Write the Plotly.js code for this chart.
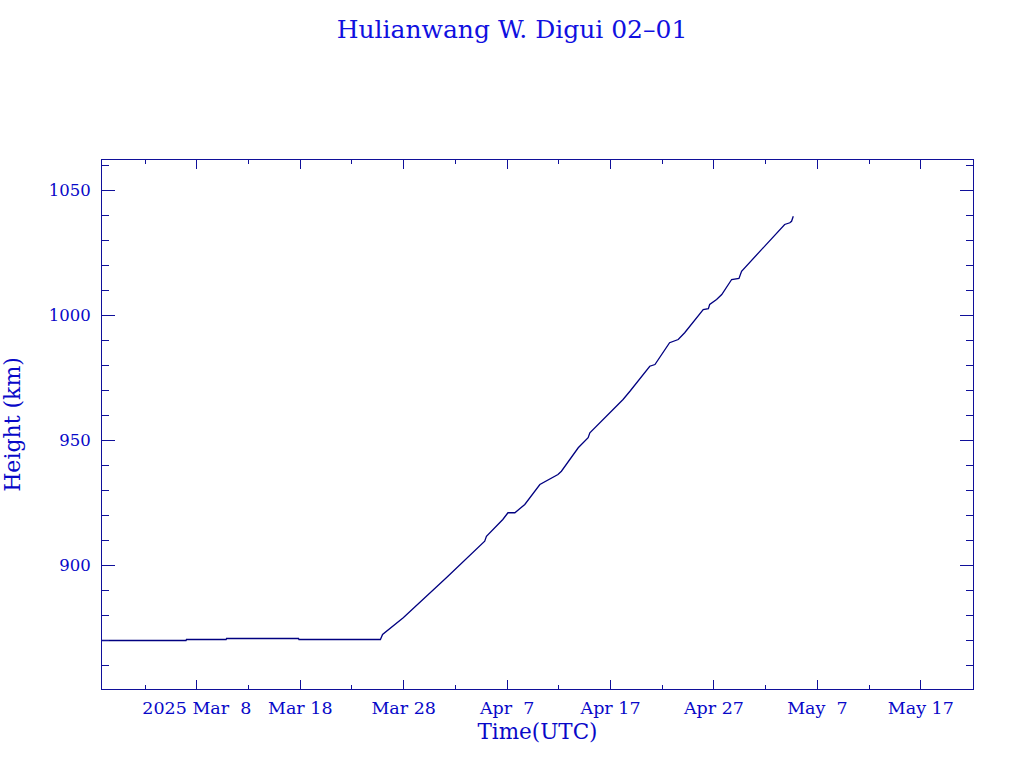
<!DOCTYPE html>
<html>
<head>
<meta charset="utf-8">
<script src="https://cdn.plot.ly/plotly-3.0.1.min.js"></script>
<style>html,body{margin:0;padding:0;background:#fff;}#chart{width:1024px;height:768px;}</style>
</head>
<body>
<div id="chart"></div>
<script>
// Observation times (UTC)
const times = [
  '2025-02-26 12:00', '2025-03-06 23:00', '2025-03-07 00:00', '2025-03-10 20:00',
  '2025-03-10 21:00', '2025-03-17 20:00', '2025-03-17 21:00', '2025-03-25 18:00',
  '2025-03-25 23:00', '2025-03-27 23:00', '2025-04-01 03:00', '2025-04-04 20:00',
  '2025-04-05 00:00', '2025-04-06 14:00', '2025-04-07 02:00', '2025-04-07 18:00',
  '2025-04-08 17:00', '2025-04-10 04:00', '2025-04-11 22:00', '2025-04-12 06:00',
  '2025-04-13 21:00', '2025-04-14 20:00', '2025-04-15 00:00', '2025-04-18 05:00',
  '2025-04-18 21:00', '2025-04-20 19:00', '2025-04-21 07:00', '2025-04-22 17:00',
  '2025-04-23 13:00', '2025-04-24 04:00', '2025-04-25 23:00', '2025-04-26 11:00',
  '2025-04-26 14:00', '2025-04-27 06:00', '2025-04-27 18:00', '2025-04-28 17:00',
  '2025-04-29 10:00', '2025-04-29 16:00', '2025-05-03 20:00', '2025-05-04 08:00',
  '2025-05-04 12:00', '2025-05-04 16:00'
];
// Height (km)
const heights = [
  870.0, 870.0, 870.4, 870.4,
  870.8, 870.8, 870.4, 870.4,
  872.4, 879.1, 895.1, 909.7,
  911.7, 918.4, 921.1, 921.1,
  924.4, 932.4, 936.4, 937.7,
  947.1, 951.1, 953.1, 966.4,
  969.7, 979.7, 980.4, 989.1,
  990.4, 993.1, 1002.4, 1002.7,
  1004.4, 1006.4, 1008.4, 1014.4,
  1014.8, 1017.7, 1036.4, 1037.1,
  1037.7, 1039.7
];
// X tick positions and labels
const xTickVals = ['2025-03-08', '2025-03-18', '2025-03-28', '2025-04-07',
                   '2025-04-17', '2025-04-27', '2025-05-07', '2025-05-17'];
const xTickText = ['2025 Mar\u00a0\u00a08', 'Mar 18', 'Mar 28', 'Apr\u00a0\u00a07',
                   'Apr 17', 'Apr 27', 'May\u00a0\u00a07', 'May 17'];
const yTickVals = [900, 950, 1000, 1050];
const titleText = 'Hulianwang W. Digui 02\u201301';

const axisCol = '#10109A';
const textCol = '#0808C8';
const fontFam = '"DejaVu Serif", "Liberation Serif", serif';
const DAY = 86400000;

const trace = {
  x: times, y: heights, type: 'scatter', mode: 'lines',
  line: {color: '#000080', width: 1.3}, hoverinfo: 'skip'
};

const layout = {
  width: 1024, height: 768,
  margin: {l: 102, r: 51, t: 160, b: 79, pad: 0},
  paper_bgcolor: '#ffffff', plot_bgcolor: '#ffffff',
  showlegend: false,
  font: {family: fontFam, color: textCol, size: 16},
  title: {text: titleText, x: 0.5, xanchor: 'center', y: 0.962, yanchor: 'middle',
          font: {family: fontFam, size: 25, color: '#1010E0'}},
  xaxis: {
    type: 'date',
    range: ['2025-02-26 20:00', '2025-05-22 01:00'],
    showgrid: false, zeroline: false,
    showline: true, linecolor: axisCol, linewidth: 1, mirror: 'ticks',
    ticks: 'inside', ticklen: 9, tickwidth: 1, tickcolor: axisCol,
    tickmode: 'array', tickvals: xTickVals, ticktext: xTickText,
    tickfont: {family: fontFam, size: 17.5, color: textCol},
    ticklabelstandoff: 3,
    minor: {dtick: 5 * DAY, tick0: '2025-03-03', ticks: 'inside', ticklen: 4,
            tickcolor: axisCol, tickwidth: 1, showgrid: false},
    title: {text: 'Time(UTC)', standoff: 6, font: {family: fontFam, size: 21.5, color: textCol}},
    automargin: false
  },
  yaxis: {
    range: [850.6, 1062.2],
    showgrid: false, zeroline: false,
    showline: true, linecolor: axisCol, linewidth: 1, mirror: 'ticks',
    ticks: 'inside', ticklen: 13, tickwidth: 1, tickcolor: axisCol,
    tickmode: 'array', tickvals: yTickVals,
    tickfont: {family: fontFam, size: 16.5, color: textCol},
    ticklabelstandoff: 7,
    minor: {dtick: 10, tick0: 850, ticks: 'inside', ticklen: 7,
            tickcolor: axisCol, tickwidth: 1, showgrid: false},
    title: {text: 'Height (km)', standoff: 22, font: {family: fontFam, size: 22, color: textCol}},
    automargin: false
  }
};

Plotly.newPlot('chart', [trace], layout, {staticPlot: true, displayModeBar: false});
</script>
</body>
</html>
